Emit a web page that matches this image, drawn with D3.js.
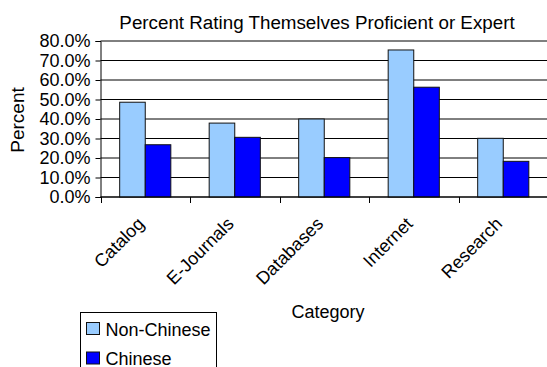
<!DOCTYPE html>
<html lang="en">
<head>
	<meta charset="UTF-8"/>
	<title>Percent Rating Themselves Proficient or Expert</title>
	<script src="https://d3js.org/d3.v7.min.js"></script>
	<style>
		body { margin: 0; background: #fff; }
		svg text { font-family: "Liberation Sans", Arial, sans-serif; fill: #000; }
	</style>
</head>
<body>
	<div id="chart"></div>
	<script>
    //Data
    var categories = ["Catalog", "E-Journals", "Databases", "Internet", "Research"];
    var seriesNames = ["Non-Chinese", "Chinese"];
    var nonChinese = [48.6, 37.9, 40.0, 75.4, 30.1];
    var chinese = [26.8, 30.6, 20.2, 56.3, 18.3];
    var yTicks = [0, 10, 20, 30, 40, 50, 60, 70, 80];
    var colors = ["#99CCFF", "#0000FF"];

    //Window Size
    var w = 547;
    var h = 367;

    //Plot area
    var plotL = 100.5, plotR = 548, plotT = 41, plotB = 197;

    var svg = d3.select("#chart")
                .append("svg")
                .attr("width", w)
                .attr("height", h);

    var xScale = d3.scaleBand()
                .domain(categories)
                .range([plotL, plotR]);

    // gap width 150% -> each bar is 1/3.5 of the band
    var barW = xScale.bandwidth() / 3.5;

    var yScale = d3.scaleLinear()
                .domain([0, 80])
                .range([plotB, plotT]);

    //Gridlines
    svg.selectAll("line.grid")
        .data(yTicks)
        .enter()
        .append("line")
        .attr("class", "grid")
        .attr("x1", plotL)
        .attr("x2", plotR)
        .attr("y1", function(d) { return yScale(d); })
        .attr("y2", function(d) { return yScale(d); })
        .attr("stroke", "#000")
        .attr("stroke-width", 1);

    //Bars
    var rows = categories.map(function(c, i) {
        return [nonChinese[i], chinese[i]];
    });

    var groups = svg.selectAll("g.cat")
        .data(rows)
        .enter()
        .append("g")
        .attr("class", "cat")
        .attr("transform", function(d, i) {
            return "translate(" + xScale(categories[i]) + ",0)";
        });

    groups.selectAll("rect")
        .data(function(d) { return d; })
        .enter()
        .append("rect")
        .attr("x", function(d, j) { return barW * 0.75 + j * barW; })
        .attr("y", function(d) { return yScale(d); })
        .attr("width", barW)
        .attr("height", function(d) { return plotB - yScale(d); })
        .attr("fill", function(d, j) { return colors[j]; })
        .attr("stroke", "#111")
        .attr("stroke-width", 1);

    //Y axis
    var yAxis = d3.axisLeft(yScale)
                .tickValues(yTicks)
                .tickSize(5)
                .tickPadding(5)
                .tickFormat(function(d) { return d.toFixed(1) + "%"; });

    var gy = svg.append("g")
        .attr("transform", "translate(" + plotL + ",0)")
        .call(yAxis);
    gy.selectAll("text").attr("font-size", "18px").attr("font-family", null);
    gy.selectAll("path, line").attr("stroke", "#000");

    //X axis (ticks between categories)
    var gx = svg.append("g");
    gx.append("line")
        .attr("x1", plotL).attr("x2", plotR)
        .attr("y1", plotB).attr("y2", plotB)
        .attr("stroke", "#000");
    gx.selectAll("line.xt")
        .data(categories)
        .enter()
        .append("line")
        .attr("class", "xt")
        .attr("x1", function(d) { return Math.round(xScale(d)) + 0.5; })
        .attr("x2", function(d) { return Math.round(xScale(d)) + 0.5; })
        .attr("y1", plotB)
        .attr("y2", plotB + 6)
        .attr("stroke", "#000");

    gx.selectAll("text")
        .data(categories)
        .enter()
        .append("text")
        .text(function(d) { return d; })
        .attr("text-anchor", "end")
        .attr("font-size", "18px")
        .attr("transform", function(d) {
            var cx = xScale(d) + xScale.bandwidth() / 2;
            return "translate(" + cx + "," + (plotB + 28) + ") rotate(-45)";
        });

    //Titles
    svg.append("text")
        .attr("x", 317)
        .attr("y", 29)
        .attr("text-anchor", "middle")
        .attr("font-size", "18.8px")
        .text("Percent Rating Themselves Proficient or Expert");

    svg.append("text")
        .attr("transform", "translate(24,120) rotate(-90)")
        .attr("text-anchor", "middle")
        .attr("font-size", "19px")
        .text("Percent");

    svg.append("text")
        .attr("x", 328)
        .attr("y", 318)
        .attr("text-anchor", "middle")
        .attr("font-size", "18px")
        .text("Category");

    //Legend
    var legend = svg.append("g");
    legend.append("rect")
        .attr("x", 80.5).attr("y", 312.5)
        .attr("width", 136).attr("height", 80)
        .attr("fill", "#fff")
        .attr("stroke", "#000");

    var items = legend.selectAll("g.item")
        .data(seriesNames)
        .enter()
        .append("g")
        .attr("class", "item")
        .attr("transform", function(d, i) {
            return "translate(0," + (i * 29.5) + ")";
        });
    items.append("rect")
        .attr("x", 86.5).attr("y", 322.5)
        .attr("width", 13).attr("height", 12)
        .attr("fill", function(d, i) { return colors[i]; })
        .attr("stroke", "#111");
    items.append("text")
        .attr("x", 105.5)
        .attr("y", 335.5)
        .attr("font-size", "18px")
        .text(function(d) { return d; });
	</script>
</body>
</html>
